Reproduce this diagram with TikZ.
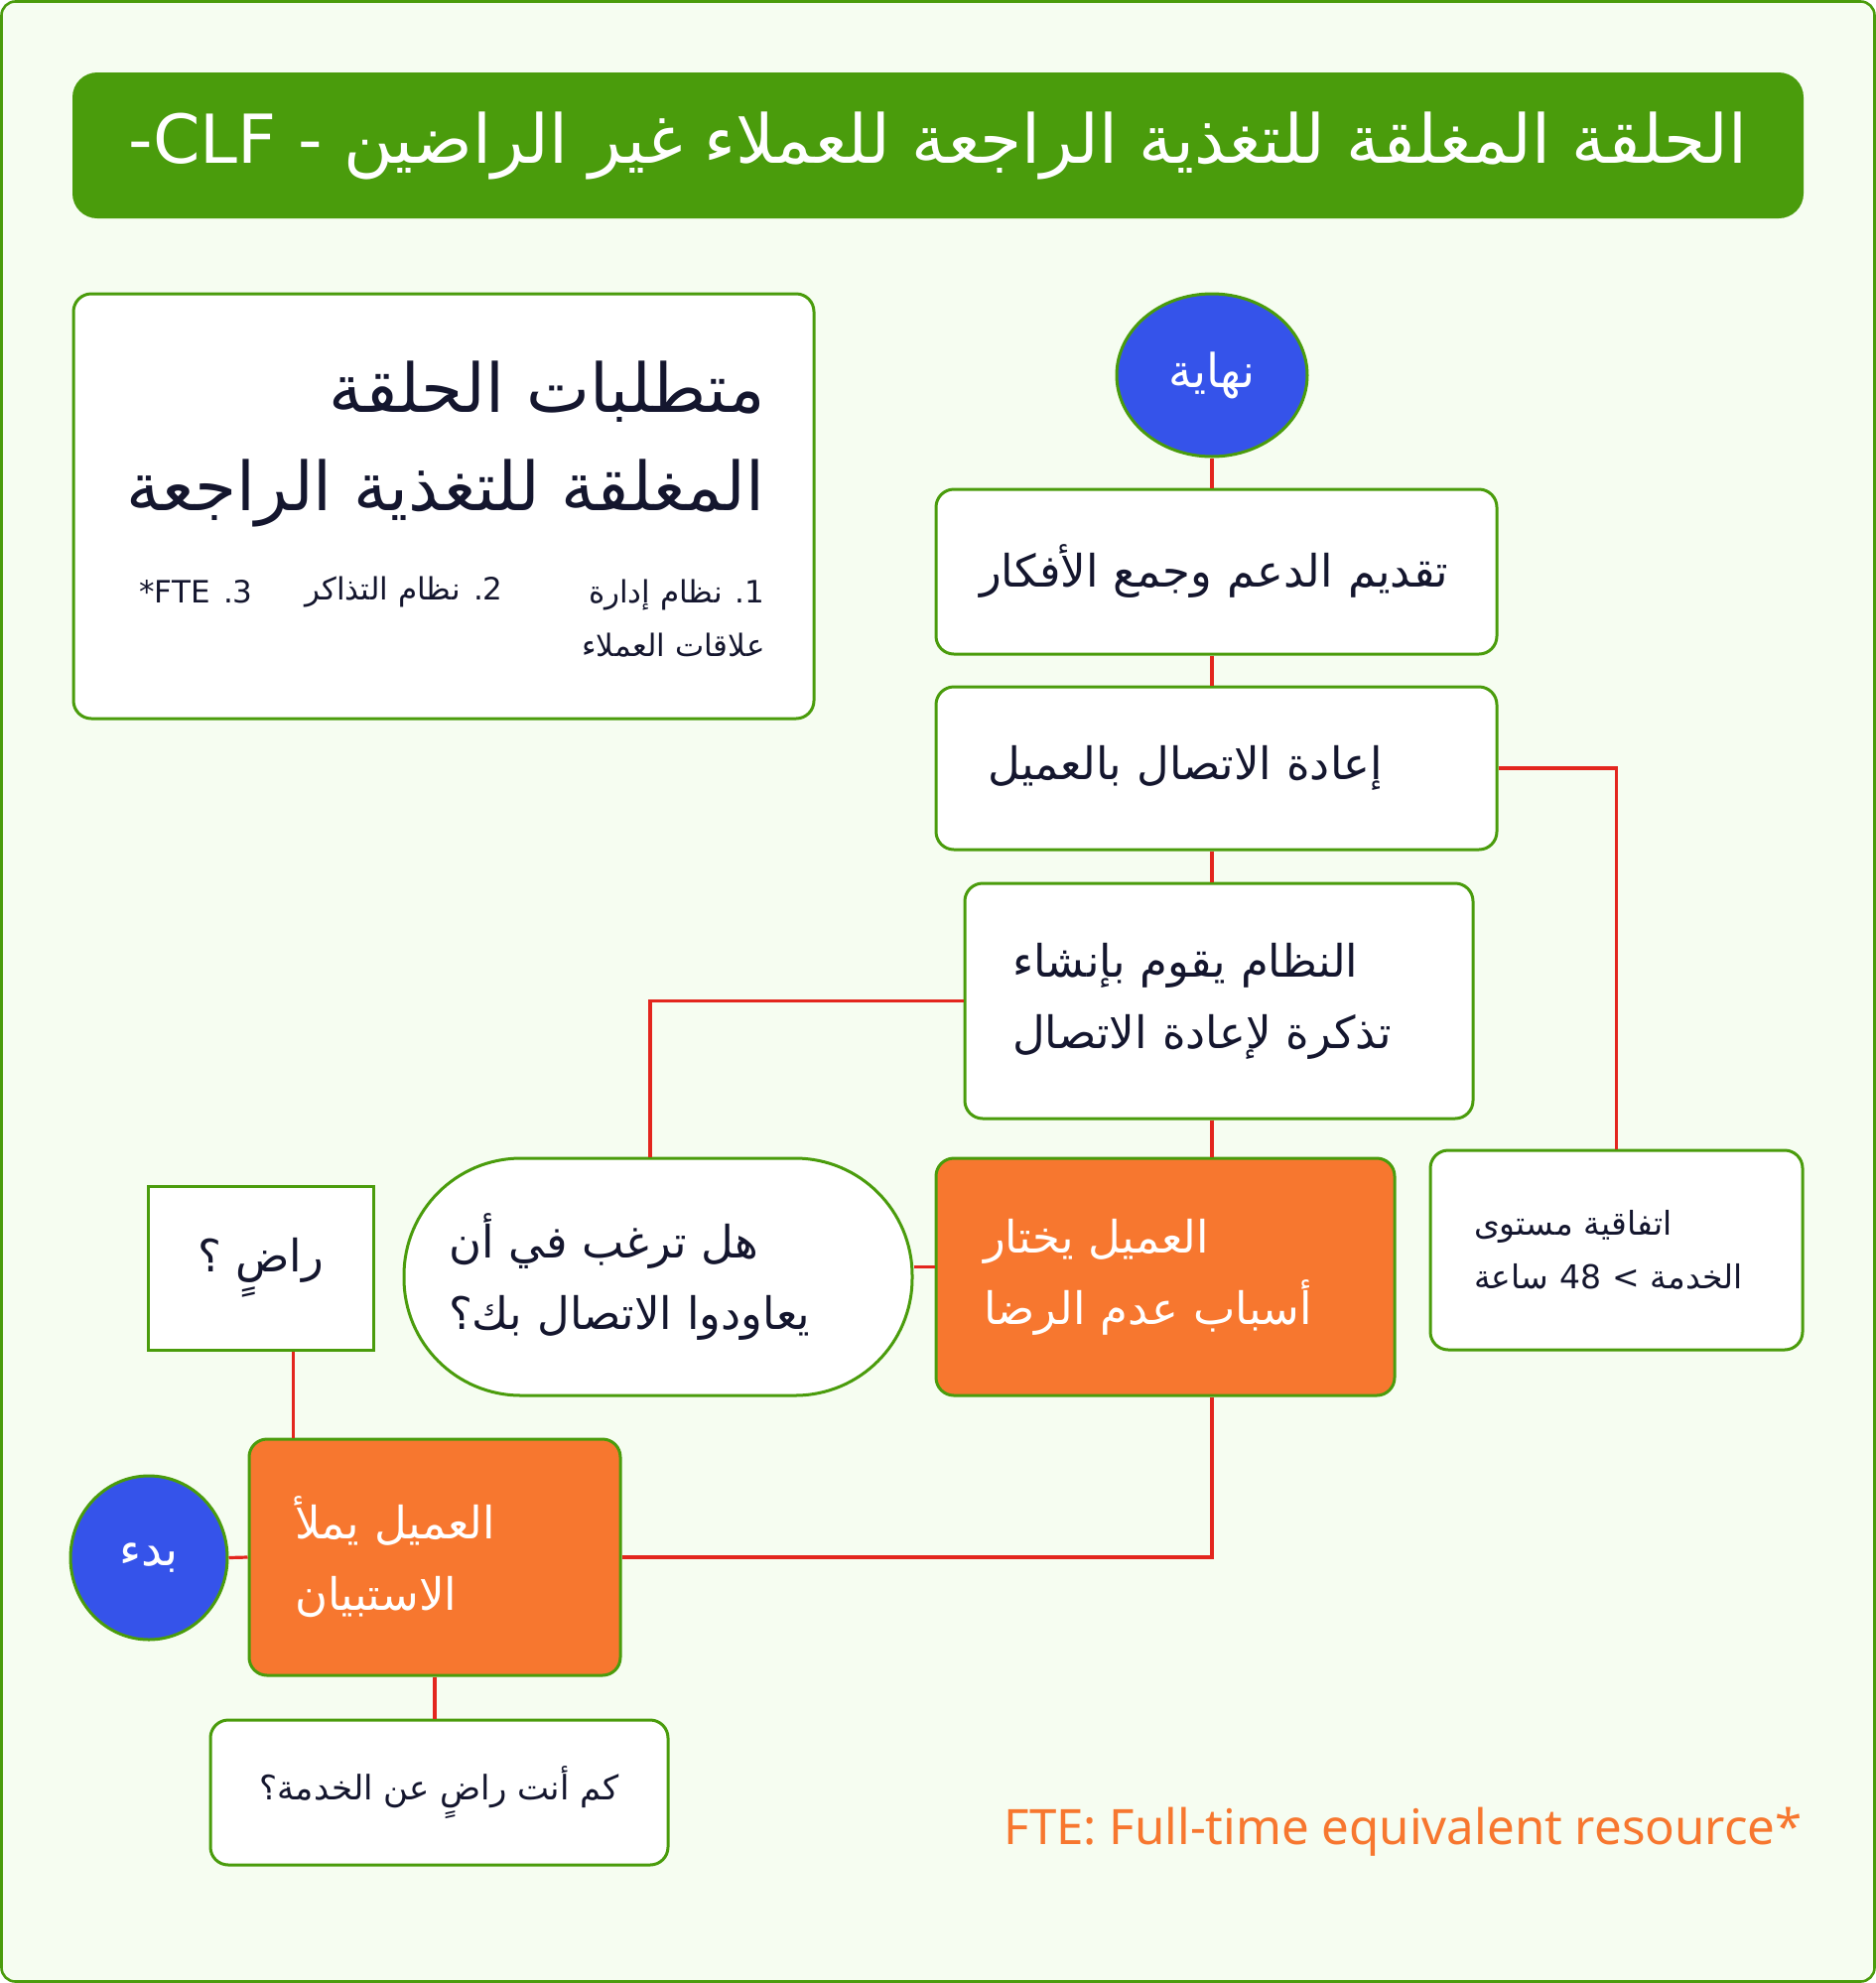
\documentclass[tikz,border=0pt]{standalone}
\usepackage{fontspec}
\usetikzlibrary{shapes.geometric}
\TeXXeTstate=1
\newfontfamily\arabicfont[Script=Arabic]{DejaVu Sans}
\newfontfamily\notefont{Noto Sans}
\newcommand{\rtltext}[1]{\beginR #1\endR}
\definecolor{paper}{HTML}{F6FDF1}
\definecolor{leaf}{HTML}{4A9C0C}
\definecolor{tangerine}{HTML}{F7772F}
\definecolor{royal}{HTML}{3553EA}
\definecolor{wire}{HTML}{E3261E}
\definecolor{ink}{HTML}{14162E}

\begin{document}
\begin{tikzpicture}[x=0.5pt, y=-0.5pt,
  card/.style={rectangle, draw=leaf, line width=1.5pt, fill=white, text=ink, inner xsep=24pt, inner ysep=0pt, align=left, font=\arabicfont\fontsize{22.5}{36}\selectfont},
  box/.style={card, rounded corners=9pt},
  hot/.style={box, fill=tangerine, text=white},
  terminal/.style={ellipse, draw=leaf, line width=1.5pt, fill=royal, text=white, inner sep=0pt, font=\arabicfont\fontsize{23.5}{28}\selectfont},
  small/.style={font=\arabicfont\fontsize{15.5}{27}\selectfont},
  link/.style={draw=wire, line width=1.6pt}]

% Fondo e titolo
\useasboundingbox (0,0) rectangle (1890,1998);
\draw[fill=paper, draw=leaf, line width=1.3pt, rounded corners=7pt] (1.5,1.5) rectangle (1888.5,1996.5);
\node (title) at (945,146.5) [rectangle, rounded corners=12.5pt, fill=leaf, minimum width=872pt, minimum height=73.5pt, text=white, font=\arabicfont\fontsize{34}{40}\selectfont] {\rtltext{الحلقة المغلقة للتغذية الراجعة للعملاء غير الراضين - \beginL-CLF\endL}};

% Requisiti
\node (req) at (447,510) [box, minimum width=373pt, minimum height=214pt, inner xsep=0pt] {};
\node (reqtitle) at (771,447.5) [anchor=east, inner sep=0pt, align=right, text=ink, font=\arabicfont\fontsize{34}{49.5}\selectfont] {\rtltext{متطلبات الحلقة}\\\rtltext{المغلقة للتغذية الراجعة}};
\node (crm) at (771,623.5) [anchor=east, inner sep=0pt, align=right, text=ink, small] {\rtltext{1. نظام إدارة}\\\rtltext{علاقات العملاء}};
\node (ticketing) at (507,596) [anchor=east, inner sep=0pt, text=ink, small] {\rtltext{2. نظام التذاكر}};
\node (fte) at (255,596) [anchor=east, inner sep=0pt, text=ink, small] {\rtltext{3. *FTE}};

% Colonna di destra
\node (finish) at (1221,378) [terminal, minimum width=96pt, minimum height=82pt] {\rtltext{نهاية}};
\node (support) at (1225.5,576) [box, minimum width=282.5pt, minimum height=83pt, inner xsep=22pt, text width=238.5pt] {\rtltext{تقديم الدعم وجمع الأفكار}};
\node (reconnect) at (1225.5,774) [box, minimum width=282.5pt, minimum height=82pt, inner xsep=26pt, text width=230.5pt] {\rtltext{إعادة الاتصال بالعميل}};
\node (ticket) at (1228,1008.5) [box, minimum width=256pt, minimum height=118.5pt, text width=208pt] {\rtltext{النظام يقوم بإنشاء}\\\rtltext{تذكرة لإعادة الاتصال}};
\node (choose) at (1174,1286.5) [hot, minimum width=231pt, minimum height=119.5pt, text width=183pt] {\rtltext{العميل يختار}\\\rtltext{أسباب عدم الرضا}};
\node (sla) at (1628.5,1259.5) [box, font=\arabicfont\fontsize{16.5}{27}\selectfont, minimum width=187.5pt, minimum height=100.5pt, inner xsep=22pt, text width=143.5pt] {\rtltext{اتفاقية مستوى}\\\rtltext{الخدمة > 48 ساعة}};

% Colonna di sinistra
\node (callback) at (663,1286.5) [box, rounded corners=59pt, minimum width=256pt, minimum height=119.5pt, inner xsep=22.5pt, text width=211pt] {\rtltext{هل ترغب في أن}\\\rtltext{يعاودوا الاتصال بك؟}};
\node (happy) at (262.5,1277.5) [card, minimum width=113.5pt, minimum height=82.5pt, inner xsep=0pt, align=center] {\raisebox{-4pt}{\rtltext{راضٍ ؟}}};
\node (survey) at (438,1569) [hot, minimum width=187pt, minimum height=119pt, inner xsep=23pt, text width=141pt] {\rtltext{العميل يملأ}\\\rtltext{الاستبيان}};
\node (start) at (150,1569.5) [terminal, minimum width=79pt, minimum height=82.5pt] {\rtltext{بدء}};
\node (howhappy) at (442.5,1806) [box, font=\arabicfont\fontsize{17}{22}\selectfont, minimum width=230.5pt, minimum height=73pt, inner xsep=0pt, align=center] {\rtltext{كم أنت راضٍ عن الخدمة؟}};

% Nota
\node (note) at (1816,1846) [anchor=east, inner sep=0pt, text=tangerine, font=\notefont\fontsize{24.6}{28}\selectfont] {FTE: Full-time equivalent resource*};

% Collegamenti
\draw[link] (finish) -- (finish |- support.north);
\draw[link] (support.south -| finish) -- (reconnect.north -| finish);
\draw[link] (reconnect.south -| finish) -- (ticket.north -| finish);
\draw[link] (ticket.south -| finish) -- (choose.north -| finish);
\draw[link] (reconnect.east) -| (sla.north);
\draw[link] (ticket.west) -| ([xshift=-4pt]callback.north);
\draw[link] ([yshift=5pt]callback.east) -- ([yshift=5pt]choose.west);
\draw[link] ([xshift=16.5pt]happy.south) -- ([xshift=16.5pt]happy.south |- survey.north);
\draw[link] (start.east) -- (survey.west);
\draw[link] (survey.east) -| (choose.south -| finish);
\draw[link] (survey.south) -- (survey.south |- howhappy.north);

\end{tikzpicture}
\end{document}
